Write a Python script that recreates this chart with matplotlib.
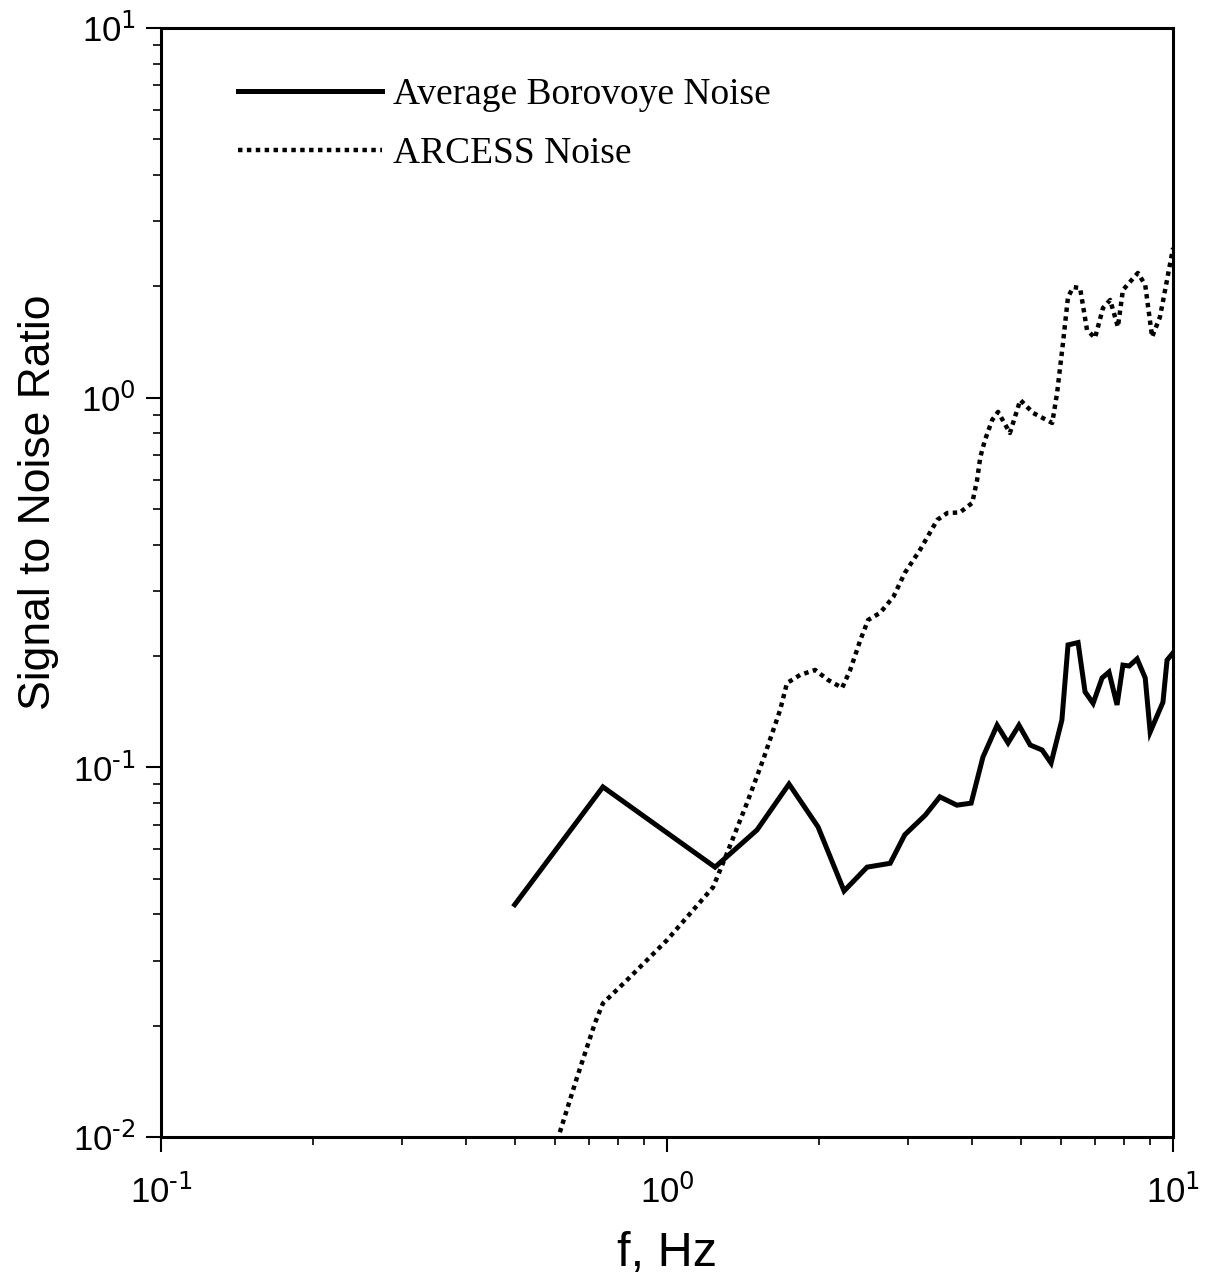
import numpy as np
import matplotlib.pyplot as plt
from matplotlib.ticker import LogLocator, FuncFormatter

plt.rcParams['font.family'] = ['Liberation Sans', 'DejaVu Sans']
plt.rcParams['mathtext.default'] = 'regular'

# Average Borovoye noise
f_bor = [0.50, 0.747, 1.244, 1.506, 1.742, 1.988, 2.238, 2.485, 2.76, 2.95, 3.24,
         3.46, 3.74, 3.99, 4.21, 4.49, 4.72, 4.96, 5.22, 5.51, 5.74, 6.03, 6.20,
         6.49, 6.70, 6.95, 7.24, 7.47, 7.75, 7.96, 8.19, 8.49, 8.81, 9.01, 9.55,
         9.73, 10.0]
snr_bor = [0.0425, 0.0885, 0.0537, 0.0677, 0.0901, 0.069, 0.0463, 0.0537, 0.055,
           0.0657, 0.0743, 0.0832, 0.079, 0.080, 0.1066, 0.130, 0.1164, 0.130,
           0.1149, 0.1114, 0.1027, 0.1343, 0.2143, 0.2175, 0.160, 0.149, 0.1745,
           0.181, 0.1475, 0.189, 0.188, 0.1965, 0.1745, 0.1246, 0.150, 0.195, 0.204]

# ARCESS noise
f_arc = [0.614, 0.664, 0.720, 0.747, 0.834, 1.0, 1.233, 1.314, 1.439, 1.548, 1.673,
         1.726, 1.832, 1.962, 2.081, 2.218, 2.30, 2.41, 2.497, 2.636, 2.80, 2.95,
         3.16, 3.42, 3.58, 3.79, 4.01, 4.10, 4.16, 4.25, 4.39, 4.51, 4.76, 4.99,
         5.29, 5.77, 5.90, 6.06, 6.20, 6.35, 6.55, 6.76, 7.01, 7.27, 7.51, 7.78,
         7.96, 8.52, 8.81, 9.09, 9.42, 9.73, 10.0]
snr_arc = [0.0103, 0.0145, 0.0203, 0.0230, 0.0266, 0.0341, 0.0474, 0.0586, 0.0801,
           0.1047, 0.1429, 0.169, 0.1778, 0.1834, 0.1723, 0.164, 0.183, 0.221,
           0.2504, 0.2616, 0.289, 0.3355, 0.387, 0.467, 0.4875, 0.489, 0.519,
           0.599, 0.691, 0.7685, 0.870, 0.915, 0.8025, 0.9856, 0.909, 0.854, 1.030,
           1.406, 1.872, 1.99, 1.98, 1.524, 1.45, 1.748, 1.837, 1.553, 1.955,
           2.174, 2.018, 1.459, 1.652, 2.083, 2.54]

fig = plt.figure(figsize=(12.17, 12.82), dpi=100)
ax = fig.add_axes([0.1323, 0.1131, 0.8316, 0.8651])

ax.plot(f_bor, snr_bor, color='black', lw=3.6, solid_joinstyle='miter',
        label='Average Borovoye Noise')
ax.plot(f_arc, snr_arc, color='black', lw=3.2, linestyle=(0, (1, 1)),
        dash_capstyle='butt', label='ARCESS Noise')

ax.set_xscale('log')
ax.set_yscale('log')
ax.set_xlim(0.1, 10)
ax.set_ylim(0.01, 10)

def pow_label(v, pos):
    # plain hyphen in the exponent instead of a math minus
    return r'$10^{\text{%d}}$' % int(round(np.log10(v)))

for axis in (ax.xaxis, ax.yaxis):
    axis.set_major_locator(LogLocator(base=10))
    axis.set_minor_locator(LogLocator(base=10, subs=np.arange(2, 10)))
    axis.set_major_formatter(FuncFormatter(pow_label))
    axis.set_minor_formatter(FuncFormatter(lambda v, p: ''))

ax.tick_params(which='major', direction='out', length=11, width=1.5, labelsize=25)
ax.tick_params(which='minor', direction='out', length=6, width=1.2)
ax.tick_params(axis='x', which='major', pad=16)
ax.tick_params(axis='y', which='major', pad=7)
for sp in ax.spines.values():
    sp.set_linewidth(2.2)

ax.set_xlabel('f, Hz', fontsize=35, labelpad=15)
ax.set_ylabel('Signal to Noise Ratio', fontsize=32)
ax.yaxis.set_label_coords(-0.101, 0.572)

leg = ax.legend(loc='upper left', bbox_to_anchor=(0.076, 0.955), frameon=False,
                handlelength=3.84, handletextpad=0.3, labelspacing=0.65,
                borderpad=0, borderaxespad=0,
                prop={'family': 'Liberation Serif', 'size': 27})

fig.savefig('out.png', dpi=100)
